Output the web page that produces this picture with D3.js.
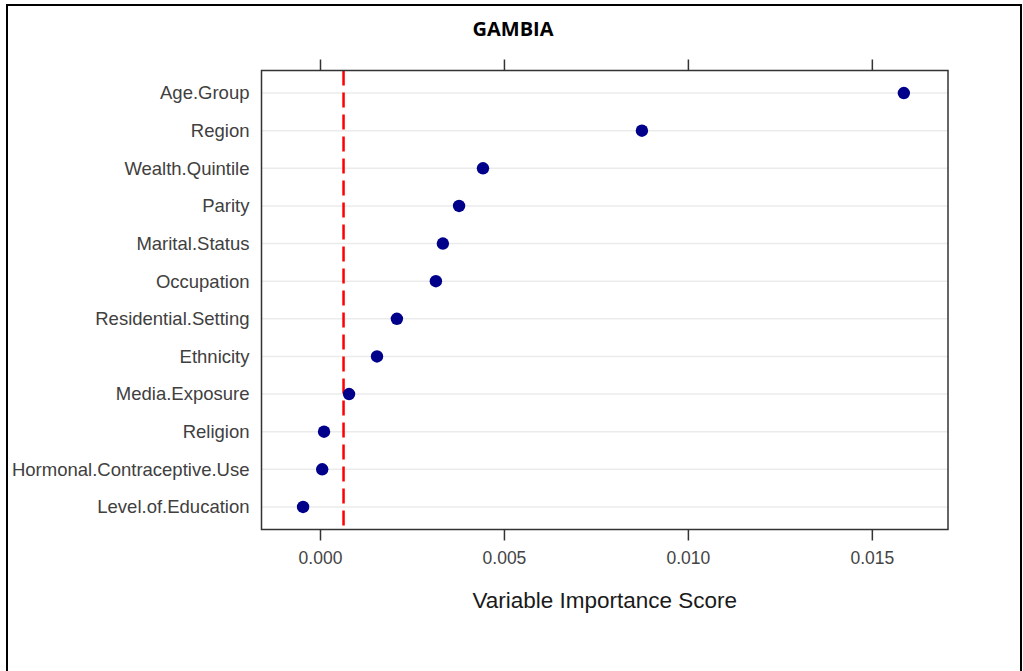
<!DOCTYPE html>
<html><head><meta charset="utf-8">
<script src="https://cdn.jsdelivr.net/npm/d3@7"></script>
<style>
html,body{margin:0;padding:0;background:#fff;}
svg{display:block;}
</style></head>
<body>
<svg id="chart" width="1023" height="671"></svg>
<script>
const title = "GAMBIA";
const variables = ["Age.Group","Region","Wealth.Quintile","Parity","Marital.Status","Occupation","Residential.Setting","Ethnicity","Media.Exposure","Religion","Hormonal.Contraceptive.Use","Level.of.Education"];
const importance = [0.01587,0.00875,0.00443,0.00378,0.00334,0.00315,0.00209,0.00155,0.00079,0.00011,0.00006,-0.00046];
const xTicks = [0.000,0.005,0.010,0.015];
const threshold = 0.00064;
const xTitle = "Variable Importance Score";

const svg = d3.select("#chart");
const panel = {left: 261.5, right: 948, top: 70.5, bottom: 529.5};
const font = "Liberation Sans, Arial, sans-serif";

// outer frame
svg.append("rect").attr("x",7).attr("y",5).attr("width",1014).attr("height",700)
  .attr("fill","none").attr("stroke","#000").attr("stroke-width",2);

const x = d3.scaleLinear().domain([-0.00159,0.01707]).range([panel.left,panel.right]);
const y = d3.scalePoint().domain(variables).range([panel.top,panel.bottom]).padding(0.6);

// gridlines
svg.append("g").selectAll("line").data(variables).join("line")
  .attr("x1",panel.left).attr("x2",panel.right)
  .attr("y1",d=>y(d)).attr("y2",d=>y(d))
  .attr("stroke","#ebebeb").attr("stroke-width",1.5);

// threshold line
svg.append("line").attr("x1",x(threshold)).attr("x2",x(threshold))
  .attr("y1",panel.top).attr("y2",panel.bottom)
  .attr("stroke","#ff0000").attr("stroke-width",2.5).attr("stroke-dasharray","15,7");

// points
svg.append("g").selectAll("circle").data(variables).join("circle")
  .attr("cx",(d,i)=>x(importance[i])).attr("cy",d=>y(d)).attr("r",6.2)
  .attr("fill","#00008b");

// panel border
svg.append("rect").attr("x",panel.left).attr("y",panel.top)
  .attr("width",panel.right-panel.left).attr("height",panel.bottom-panel.top)
  .attr("fill","none").attr("stroke","#333").attr("stroke-width",1.5);

// axes
const fmt = d3.format(".3f");
const xb = svg.append("g").attr("transform",`translate(0,${panel.bottom})`)
  .call(d3.axisBottom(x).tickValues(xTicks).tickFormat(fmt).tickSize(11).tickSizeOuter(0).tickPadding(11));
const xt = svg.append("g").attr("transform",`translate(0,${panel.top})`)
  .call(d3.axisTop(x).tickValues(xTicks).tickFormat("").tickSize(11).tickSizeOuter(0));
[xb,xt].forEach(g=>{
  g.select(".domain").remove();
  g.selectAll(".tick line").attr("stroke","#333").attr("stroke-width",1.5);
});
xb.selectAll(".tick text").attr("font-family",font)
  .attr("font-size",17.5).attr("fill","#444");

const yl = svg.append("g").attr("transform",`translate(${panel.left},0)`)
  .call(d3.axisLeft(y).tickSize(0).tickPadding(12));
yl.select(".domain").remove();
yl.selectAll(".tick text").attr("font-family",font)
  .attr("font-size",18.5).attr("fill","#404040");

// titles
svg.append("text").attr("x",(panel.left+panel.right)/2).attr("y",608)
  .attr("text-anchor","middle").attr("font-family",font)
  .attr("font-size",22.5).attr("fill","#1a1a1a").text(xTitle);
svg.append("text").attr("x",513).attr("y",36)
  .attr("text-anchor","middle").attr("font-family","Open Sans, Liberation Sans, sans-serif")
  .attr("font-weight","bold").attr("font-size",20).attr("fill","#000").text(title);
</script>
</body></html>
